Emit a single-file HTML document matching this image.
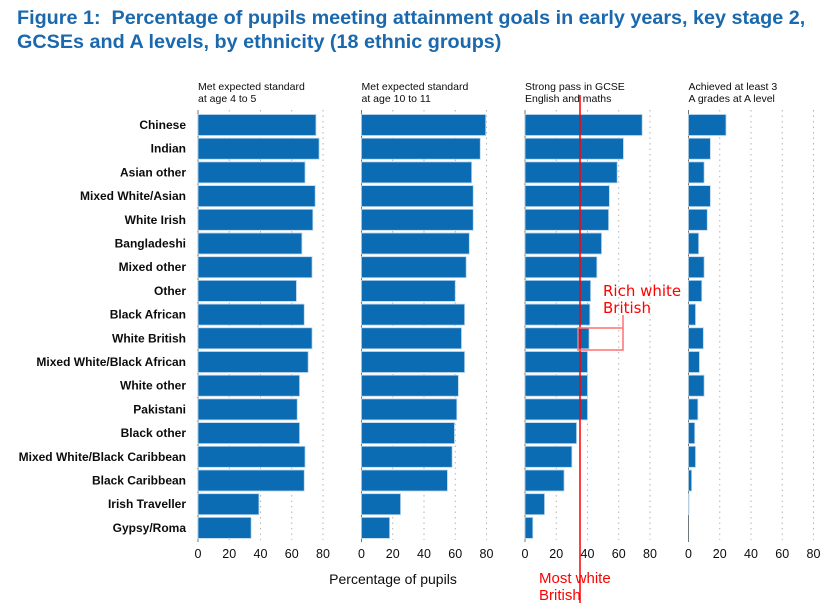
<!DOCTYPE html>
<html><head><meta charset="utf-8"><style>
body{margin:0;background:#fff;width:836px;height:613px;overflow:hidden;font-family:"Liberation Sans",sans-serif}
h1{position:absolute;left:17px;top:6px;margin:0;font-size:19.8px;letter-spacing:0;line-height:24px;color:#1a69ae;font-weight:bold}
</style></head><body>
<h1>Figure 1:&nbsp; Percentage of pupils meeting attainment goals in early years, key stage 2,<br>GCSEs and A levels, by ethnicity (18 ethnic groups)</h1>
<svg id="c" width="836" height="613" style="position:absolute;left:0;top:0"></svg>
<script>
const groups=["Chinese","Indian","Asian other","Mixed White/Asian","White Irish","Bangladeshi","Mixed other","Other","Black African","White British","Mixed White/Black African","White other","Pakistani","Black other","Mixed White/Black Caribbean","Black Caribbean","Irish Traveller","Gypsy/Roma"];
const panelTitles=[["Met expected standard","at age 4 to 5"],["Met expected standard","at age 10 to 11"],["Strong pass in GCSE","English and maths"],["Achieved at least 3","A grades at A level"]];
const earlyYears=[75.5,77.5,68.5,75,73.5,66.5,73,63,68,73,70.5,65,63.5,65,68.5,68,39,34];
const keyStage2=[79.5,76,70.5,71.5,71.5,69,67,60,66,64,66,62,61,59.5,58,55,25,18];
const gcse=[75,63,59,54,53.5,49,46,42,41.5,41,40,40,40,33,30,25,12.5,5];
const aLevels=[24,14,10,14,12,6.5,10,8.5,4.5,9.5,7,10,6,4,4.5,2,0.3,0];
const ticks=[0,20,40,60,80];
const series=[earlyYears,keyStage2,gcse,aLevels];
const NS="http://www.w3.org/2000/svg",svg=document.getElementById('c');
const panelX=[198,361.5,525,688.5],scale=1.5625,rowY0=125,pitch=23.7,barH=21;
function xs(p,v){return panelX[p]+v*scale}
function ys(i){return rowY0+i*pitch}
function mk(t,a,txt){const e=document.createElementNS(NS,t);for(const k in a)e.setAttribute(k,a[k]);if(txt!=null)e.textContent=txt;svg.appendChild(e);return e}
groups.forEach((g,i)=>{const t=mk('text',{x:186,y:ys(i)+4,'text-anchor':'end','font-size':'12','font-weight':'bold',fill:'#0b0c0c'},g);

});
series.forEach((s,p)=>{
 panelTitles[p].forEach((l,k)=>{const t=mk('text',{x:panelX[p],y:90+k*12,'font-size':'10.5',fill:'#0b0c0c'},l);
 
 });
 ticks.forEach(v=>{const x=xs(p,v);
  if(v>0){const l=mk('line',{x1:x,x2:x,y1:110,y2:540,stroke:'#b1b4b6','stroke-width':1,'stroke-dasharray':'1.5,4'});
  
  }
  const t=mk('text',{x:x,y:558,'text-anchor':'middle','font-size':'12.5',fill:'#0b0c0c'},v);
  
  });
 const ax=mk('line',{x1:panelX[p],x2:panelX[p],y1:110,y2:542,stroke:'#6f777b','stroke-width':1});
 
 
 s.forEach((v,i)=>{const r=mk('rect',{x:panelX[p],y:ys(i)-barH/2,width:Math.max(0,v*scale),height:barH,fill:'#0b6cb4',stroke:'#bcd6ec','stroke-width':0.8});
  
  });
});
const xt=mk('text',{x:393,y:584,'text-anchor':'middle','font-size':'14',fill:'#0b0c0c'},'Percentage of pupils');


const rl=mk('line',{x1:580,x2:580,y1:95,y2:603,stroke:'#ff0000','stroke-width':1.5});


const bx=mk('path',{d:'M578 328 H623 V350 H578 Z M623 328 V315',fill:'none',stroke:'#ff7070','stroke-width':1.5});


[['Rich white',603,296],['British',603,313]].forEach(a=>{const t=mk('text',{x:a[1],y:a[2],'font-size':'15',fill:'#ff0000','font-family':'DejaVu Sans, sans-serif'},a[0]);

});
[['Most white',539,583],['British',539,600]].forEach(a=>{const t=mk('text',{x:a[1],y:a[2],'font-size':'15',fill:'#ff0000'},a[0]);

});
</script>
</body></html>
